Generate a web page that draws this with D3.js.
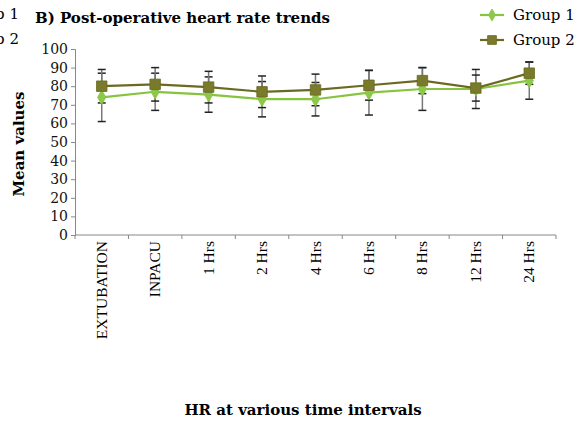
<!DOCTYPE html>
<html>
<head>
<meta charset="utf-8">
<script src="https://cdn.jsdelivr.net/npm/d3@7"></script>
<style>
  body { margin: 0; background: #fff; }
  svg { display: block; }
</style>
</head>
<body>
<svg id="chart" width="583" height="424"></svg>
<script>
// data
var categories = ["EXTUBATION", "INPACU", "1 Hrs", "2 Hrs", "4 Hrs", "6 Hrs", "8 Hrs", "12 Hrs", "24 Hrs"];
var group1 = [74, 77, 75.5, 73, 73, 76.5, 78.5, 78.5, 83];
var group1Err = [13, 10, 9.5, 9.5, 9, 12, 11.5, 10.5, 10];
var group2 = [80, 81, 79.5, 77, 78, 80.5, 83, 79, 87];
var group2Err = [9, 9, 8.5, 8.5, 8.5, 8, 7, 7, 6];
var yTicks = [0, 10, 20, 30, 40, 50, 60, 70, 80, 90, 100];

var svg = d3.select('#chart');
var serif = "'DejaVu Serif', serif";
var times = "'Liberation Serif', 'Times New Roman', serif";

var x = d3.scaleBand().domain(categories).range([75, 556]);
var y = d3.scaleLinear().domain([0, 100]).range([235, 49]);

var series = [
    {name: 'Group 1', values: group1, err: group1Err, line: '#86c43f', fill: '#8cc84a', shape: d3.symbolDiamond, size: 60},
    {name: 'Group 2', values: group2, err: group2Err, line: '#6a6a22', fill: '#7a7a2c', shape: d3.symbolSquare, size: 110}
];

// cut off legend of the neighbouring panel
svg.append('text').attr('x', 19).attr('y', 19).attr('text-anchor', 'end')
    .style('font-family', serif).style('font-size', '15px').text('Group 1');
svg.append('text').attr('x', 19).attr('y', 44).attr('text-anchor', 'end')
    .style('font-family', serif).style('font-size', '15px').text('Group 2');

// title
svg.append('text').attr('x', 35).attr('y', 23)
    .style('font-family', serif).style('font-weight', 'bold').style('font-size', '15px')
    .text('B) Post-operative heart rate trends');

// y axis
var yAxis = svg.append('g').attr('transform', 'translate(75,0)')
    .call(d3.axisLeft(y).tickValues(yTicks).tickSize(4).tickPadding(3));
yAxis.select('.domain').attr('stroke', '#888');
yAxis.selectAll('.tick line').attr('stroke', '#888');
yAxis.selectAll('.tick text').style('font-family', serif).style('font-size', '14px').attr('fill', '#111');

// x axis: ticks sit between categories
var xAxis = svg.append('g').attr('transform', 'translate(0,235)');
xAxis.append('line').attr('x1', x.range()[0]).attr('x2', x.range()[1])
    .attr('stroke', '#888');
xAxis.selectAll('line.tk')
    .data(categories.concat(['end']))
    .enter().append('line').classed('tk', true)
    .attr('x1', function(d) { return d === 'end' ? x.range()[1] : x(d); })
    .attr('x2', function(d) { return d === 'end' ? x.range()[1] : x(d); })
    .attr('y1', 0).attr('y2', 4).attr('stroke', '#888');
xAxis.selectAll('text.lbl')
    .data(categories)
    .enter().append('text').classed('lbl', true)
    .attr('transform', function(d) {
        return 'translate(' + (x(d) + x.bandwidth() / 2 + 5) + ',6) rotate(-90)';
    })
    .attr('text-anchor', 'end')
    .style('font-family', times).style('font-size', '15.5px')
    .text(function(d) { return d; });

// axis titles
svg.append('text')
    .attr('transform', 'translate(24,144) rotate(-90)')
    .attr('text-anchor', 'middle')
    .style('font-family', serif).style('font-weight', 'bold').style('font-size', '15px')
    .text('Mean values');
svg.append('text').attr('x', 303).attr('y', 415).attr('text-anchor', 'middle')
    .style('font-family', serif).style('font-weight', 'bold').style('font-size', '15px')
    .text('HR at various time intervals');

var cx = function(i) { return x(categories[i]) + x.bandwidth() / 2; };

// error bars
series.forEach(function(s) {
    var g = svg.append('g').classed('err', true);
    s.values.forEach(function(v, i) {
        var lo = y(v - s.err[i]), hi = y(v + s.err[i]);
        g.append('line').attr('x1', cx(i)).attr('x2', cx(i)).attr('y1', lo).attr('y2', hi)
            .attr('stroke', '#777').attr('stroke-width', 1.5);
        [lo, hi].forEach(function(yy) {
            g.append('line').attr('x1', cx(i) - 4).attr('x2', cx(i) + 4).attr('y1', yy).attr('y2', yy)
                .attr('stroke', '#222').attr('stroke-width', 1.5);
        });
    });
});

// lines and markers
var line = d3.line().x(function(d, i) { return cx(i); }).y(function(d) { return y(d); });
series.forEach(function(s) {
    svg.append('path').datum(s.values).attr('d', line)
        .attr('fill', 'none').attr('stroke', s.line).attr('stroke-width', 2.2);
});
series.forEach(function(s) {
    svg.append('g').selectAll('path')
        .data(s.values).enter().append('path')
        .attr('transform', function(d, i) { return 'translate(' + cx(i) + ',' + y(d) + ')'; })
        .attr('d', d3.symbol().type(s.shape).size(s.size))
        .attr('fill', s.fill).attr('stroke', s.line).attr('stroke-width', 0.8);
});

// legend
var leg = svg.append('g');
series.forEach(function(s, i) {
    var ly = 15 + i * 25;
    leg.append('line').attr('x1', 480).attr('x2', 504).attr('y1', ly).attr('y2', ly)
        .attr('stroke', s.line).attr('stroke-width', 2.2);
    leg.append('path').attr('transform', 'translate(492,' + ly + ')')
        .attr('d', d3.symbol().type(s.shape).size(s.size * 0.7))
        .attr('fill', s.fill).attr('stroke', s.line).attr('stroke-width', 0.8);
    leg.append('text').attr('x', 513).attr('y', ly + 5)
        .style('font-family', serif).style('font-size', '15px')
        .text(s.name);
});
</script>
</body>
</html>
